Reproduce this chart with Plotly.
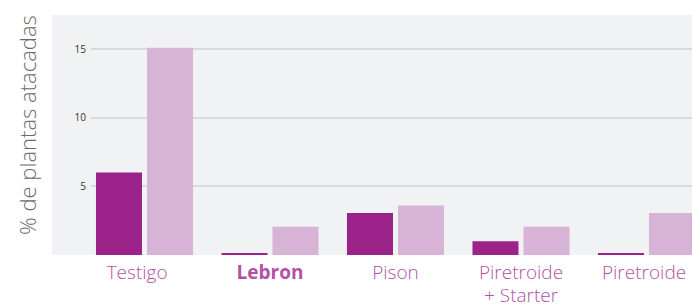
import plotly.graph_objects as go

categories = ["Testigo\u00a0\u00a0\u00a0", "<b>Lebron</b>", "Pison", "Piretroide", "Piretroide "]
second_line = {3: "+ Starter"}
serie_a = [6.0, 0.15, 3.05, 1.0, 0.15]
serie_b = [15.1, 2.05, 3.6, 2.05, 3.05]
tick_vals = [5, 10, 15]
tick_text = ["5", "10", "15"]

dark = "#9a2289"
light = "#d7b4d6"
bg = "#f1f2f4"
label_color = "#b251a7"

fig = go.Figure()
fig.add_trace(go.Bar(x=categories, y=serie_a, marker=dict(color=dark, line=dict(width=0)), name="A"))
fig.add_trace(go.Bar(x=categories, y=serie_b, marker=dict(color=light, line=dict(width=0)), name="B"))

W, H = 692, 306
ml, mt = 91, 15
plot_bottom = 255
mb = H - plot_bottom
pw = W - ml
ph = plot_bottom - mt
slot = 125.5
x_left = -(144.5 - 91) / slot
x_right = x_left + pw / slot

annotations = [dict(text="% de plantas atacadas", xref="paper", yref="paper",
                    x=(27 - 91) / pw, y=(255 - 125) / ph, xanchor="center", yanchor="middle",
                    textangle=-90, showarrow=False,
                    font=dict(family="Open Sans", size=22, weight=300, color="#6b6b6b"))]
for idx, txt in second_line.items():
    annotations.append(dict(text=txt, xref="x", yref="paper", x=categories[idx], y=0,
                            xanchor="center", yanchor="middle", yshift=-40, showarrow=False,
                            borderpad=0,
                            font=dict(family="Open Sans", size=19, weight=300, color=label_color)))

fig.update_layout(
    width=W, height=H,
    margin=dict(l=ml, r=0, t=mt, b=mb, pad=0, autoexpand=False),
    paper_bgcolor="white",
    plot_bgcolor=bg,
    barmode="group",
    bargap=0.187,
    bargroupgap=0.098,
    showlegend=False,
    font=dict(family="Open Sans", color="#333"),
    shapes=[dict(type="rect", xref="paper", yref="paper", x0=(52 - 91) / pw, x1=0, y0=0, y1=1,
                 fillcolor=bg, line=dict(width=0), layer="below")],
    annotations=annotations,
)
fig.update_xaxes(
    range=[x_left, x_right], automargin=False,
    showgrid=False, zeroline=False, showline=False, ticks="",
    tickfont=dict(family="Open Sans", size=19, weight=300, color=label_color),
    ticklabelstandoff=4,
)
fig.update_yaxes(
    range=[0, 17.48], automargin=False,
    tickvals=tick_vals, ticktext=tick_text,
    showgrid=True, gridcolor="#d9d9dc", gridwidth=1.5,
    zeroline=False, showline=False, ticks="",
    tickfont=dict(family="Open Sans", size=10, color="#333"),
    ticklabelstandoff=4,
)
fig.write_html("out.html", config={"displayModeBar": False},
               post_script="document.body.style.margin='0';document.body.style.overflow='hidden';")
